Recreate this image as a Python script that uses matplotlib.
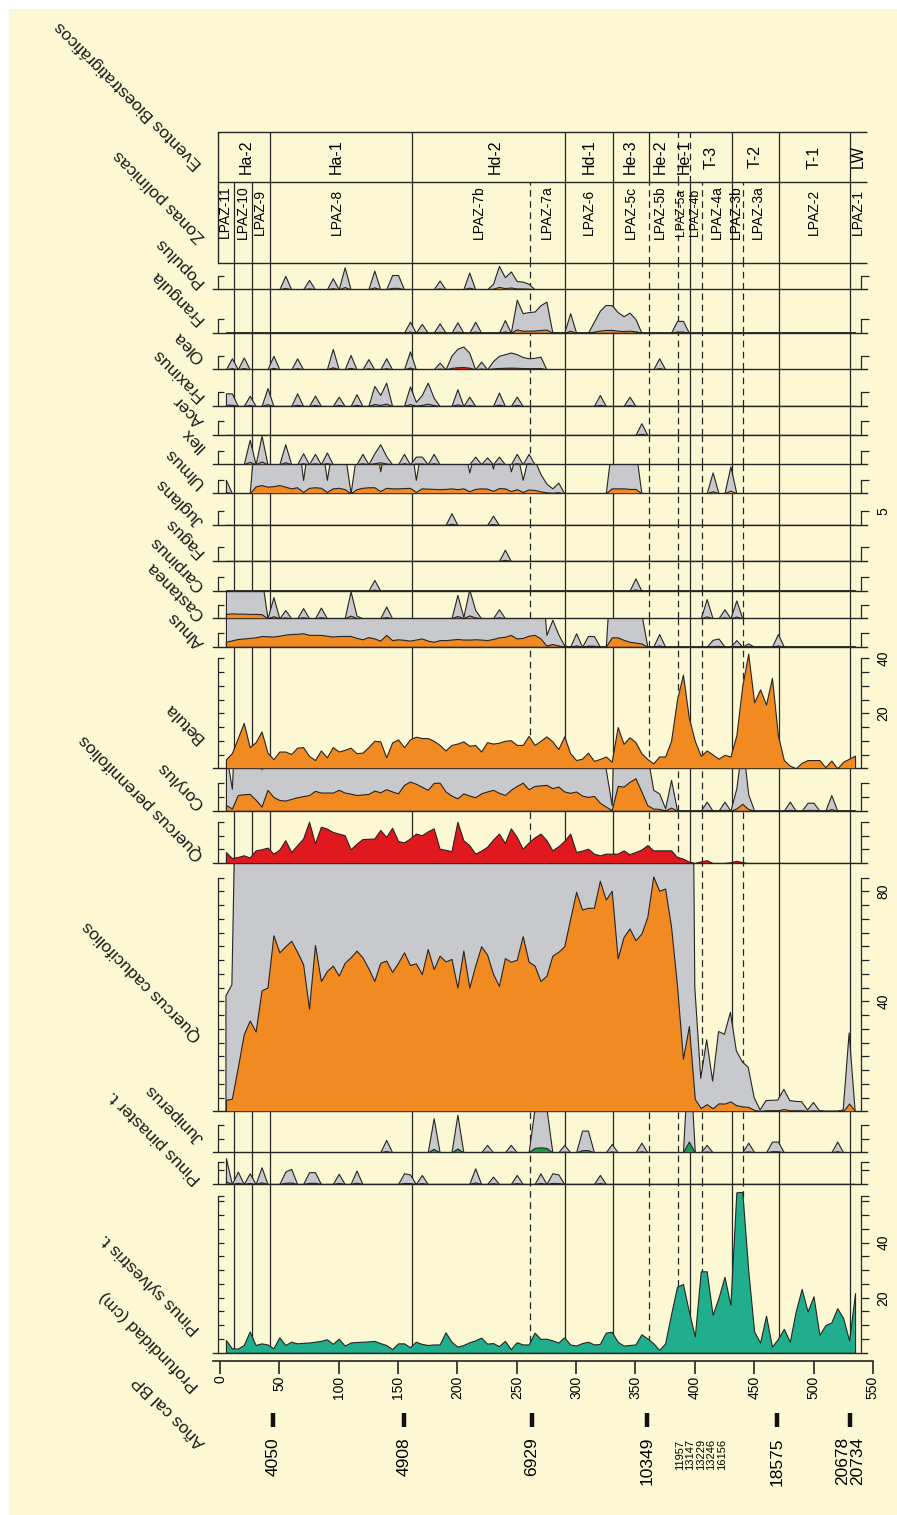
import numpy as np
import matplotlib
matplotlib.use("Agg")
import matplotlib.pyplot as plt
from matplotlib.patches import Rectangle
from matplotlib import font_manager as fm

# ---------------------------------------------------------------- data
DEPTHS = [5, 10, 15, 20, 25, 30, 35, 40, 45, 50,
          55, 60, 65, 70, 75, 80, 85, 90, 95, 100,
          105, 110, 115, 120, 125, 130, 135, 140, 145, 150,
          155, 160, 165, 170, 175, 180, 185, 190, 195, 200,
          205, 210, 215, 220, 225, 230, 235, 240, 245, 250,
          255, 260, 265, 270, 275, 280, 285, 290, 295, 300,
          305, 310, 315, 320, 325, 330, 335, 340, 345, 350,
          355, 360, 365, 370, 375, 380, 385, 390, 395, 400,
          405, 410, 415, 420, 425, 430, 435, 440, 445, 450,
          455, 460, 465, 470, 475, 480, 485, 490, 495, 500,
          505, 510, 515, 520, 525, 530, 535]

PINUS_SYLVESTRIS = [4.6, 1.6, 1.5, 2.8, 7.7, 2.8, 3.4, 3.0, 1.6, 5.6,
                    2.8, 4.0, 3.4, 3.6, 3.7, 4.0, 4.3, 4.9, 3.2, 5.1,
                    2.6, 3.7, 3.9, 4.0, 4.1, 4.3, 3.5, 2.8, 1.3, 3.4,
                    3.4, 2.0, 4.0, 3.2, 2.8, 3.0, 3.0, 7.4, 4.0, 2.2,
                    2.8, 3.8, 4.5, 5.5, 3.3, 3.5, 2.4, 4.3, 1.3, 3.8,
                    3.0, 3.0, 7.3, 5.0, 5.1, 4.5, 3.7, 5.6, 3.0, 2.6,
                    3.5, 4.0, 3.0, 3.2, 7.3, 7.6, 4.0, 2.6, 2.8, 3.0,
                    6.7, 5.2, 3.5, 1.0, 3.4, 14.0, 24.0, 25.0, 15.0, 5.9,
                    29.6, 29.6, 13.8, 20.0, 27.6, 17.4, 58.3, 58.5, 30.0, 7.7,
                    3.7, 13.5, 2.2, 5.0, 8.7, 4.0, 15.0, 23.2, 15.0, 20.5,
                    6.5, 10.0, 11.0, 16.2, 12.6, 4.4, 21.7]

QUERCUS_CADUC = [4.2, 4.6, 16, 28, 33, 29, 44, 45, 64, 57.8,
                 60, 62, 58, 53.5, 37.3, 60.5, 47.4, 51, 53, 49.3,
                 54, 56, 58.4, 56, 52, 47.4, 54, 54.8, 50.7, 54,
                 57.8, 53.2, 53.8, 49.9, 59, 51.7, 56.6, 54.5, 55.4, 45,
                 58.5, 45, 53, 60, 57, 50, 45.6, 55.7, 54.4, 55.1,
                 63.7, 54.4, 53, 47.4, 49.3, 56.6, 58, 60, 70, 79.8,
                 73.4, 74, 74, 83.8, 77, 80.2, 55.6, 63.4, 66.5, 62.2,
                 64.6, 70.7, 85.4, 80.2, 81, 67.1, 45.7, 19.1, 31, 4.5,
                 1.2, 2.6, 1.1, 2.9, 2.8, 3.6, 2.2, 1.8, 1.6, 0.5,
                 0.05, 0.39, 0.4, 0.41, 0.8, 0.39, 0.36, 0.35, 0.05, 0.32,
                 0.02, 0, 0, 0, 0.05, 2.85, 0.05]

QUERCUS_PERENN = [4.0, 1.8, 2.2, 2.8, 2.0, 4.6, 5.0, 5.6, 3.4, 4.9,
                  8.3, 4.0, 6.5, 8.9, 15, 7.1, 13.2, 12.5, 11.3, 10.7,
                  10.1, 5.0, 7.0, 8.7, 8.8, 8.9, 12.0, 9.5, 12.8, 8.0,
                  7.5, 8.9, 10.7, 10.1, 11.5, 12.6, 5.2, 4.8, 4.3, 15.0,
                  8.3, 6.5, 3.4, 4.5, 5.9, 8.5, 10.7, 7.3, 12.6, 9.5,
                  5.2, 7.5, 9.3, 10.7, 8.3, 4.6, 6.1, 8.0, 10.7, 4.0,
                  4.5, 5.2, 3.4, 2.8, 3.4, 3.4, 3.4, 4.6, 3.2, 4.0,
                  4.9, 6.5, 4.6, 4.6, 4.6, 4.6, 2.2, 1.6, 0.5, 0,
                  0.6, 1.0, 0, 0, 0, 0.3, 0.8, 0.3, 0, 0,
                  0, 0, 0, 0, 0, 0, 0, 0, 0, 0,
                  0, 0, 0, 0, 0, 0, 0]

CORYLUS = [2.1, 0.8, 5.7, 6.0, 6.1, 4.0, 1.5, 7.6, 5.0, 3.9,
           3.7, 4.3, 4.9, 5.3, 5.7, 7.2, 6.6, 6.6, 6.6, 7.6,
           6.6, 6.2, 5.7, 5.9, 6.1, 7.3, 6.7, 7.8, 7.0, 6.3,
           9.4, 10.6, 9.8, 8.7, 7.6, 10.1, 10.2, 7.0, 5.5, 4.5,
           6.3, 5.5, 4.9, 6.3, 7.0, 7.6, 6.5, 5.7, 7.6, 9.0,
           10.2, 7.8, 9.0, 9.2, 9.4, 8.2, 8.8, 7.0, 6.5, 7.0,
           5.5, 5.0, 5.4, 2.9, 1.5, 0.2, 9.0, 8.8, 10.5, 11.8,
           7.0, 2.0, 0.76, 0.63, 0.09, 1.12, 0.02, 0, 0, 0,
           0, 0.33, 0, 0, 0.33, 0, 0.82, 2.5, 0.6, 0,
           0, 0, 0, 0, 0, 0.33, 0, 0, 0.29, 0.29,
           0, 0, 0.57, 0, 0, 0, 0]

BETULA = [3.3, 5.5, 11, 16.5, 7.7, 9.5, 13.4, 5.7, 3.3, 6.1,
          6.1, 5.2, 7.5, 7.7, 4.5, 3.0, 6.5, 4.0, 7.7, 6.1,
          6.7, 7.5, 5.5, 5.7, 7.7, 10.0, 9.8, 4.0, 9.4, 10.5,
          7.7, 10.5, 11.5, 11, 11, 10, 8.5, 6.5, 8.5, 9.0,
          9.8, 8.2, 8.5, 6.1, 9.5, 9.0, 9.3, 10, 10.2, 8.5,
          8.5, 11.8, 8.5, 10, 11.6, 9.8, 7.0, 11.6, 5.5, 3.0,
          3.5, 5.7, 2.7, 3.4, 4.3, 2.4, 15, 8.9, 11.3, 9.5,
          5.5, 3.4, 1.8, 4.3, 4.3, 10, 25, 34.1, 18.3, 10,
          4.5, 6.5, 5.0, 3.5, 4.9, 4.3, 12, 30, 41.7, 24,
          28.7, 23.2, 32.9, 12, 3, 1, 0, 2.0, 3.0, 3.0,
          3.0, 0.4, 2.8, 0, 2.4, 3.5, 4.6]

ALNUS = [1.8, 2.3, 2.8, 3.0, 3.2, 3.4, 3.9, 3.8, 3.7, 4.0,
         4.4, 4.6, 4.7, 4.9, 4.3, 4.3, 4.3, 4.0, 3.7, 3.9,
         3.9, 3.9, 3.2, 2.7, 3.5, 3.0, 2.2, 4.3, 2.4, 2.7,
         2.5, 2.2, 2.6, 3.0, 2.2, 1.8, 2.4, 2.4, 2.6, 2.8,
         2.6, 2.6, 2.7, 2.6, 2.4, 2.8, 3.4, 3.6, 4.3, 3.0,
         3.2, 4.0, 4.3, 3.0, 0.43, 0.98, 0.45, 0.05, 0, 0.49,
         0, 0.39, 0.39, 0, 0, 3.4, 3.4, 2.5, 1.8, 1.5,
         1.2, 0, 0, 0.46, 0, 0, 0, 0, 0, 0,
         0, 0, 0.25, 0.3, 0, 0, 0.24, 0, 0.12, 0,
         0, 0, 0, 0.46, 0, 0, 0, 0, 0, 0,
         0, 0, 0, 0, 0, 0, 0]

ULMUS = [0.49, 0, 0, 0, 0, 2.5, 3.0, 2.4, 2.6, 3.0,
         2.4, 1.8, 2.2, 0.49, 2.0, 2.2, 2.0, 0.49, 1.8, 2.0,
         1.5, 0, 1.5, 2.0, 2.2, 2.2, 0.8, 2.0, 1.8, 1.8,
         1.9, 2.0, 0.49, 1.8, 1.7, 1.6, 1.5, 1.6, 1.8, 1.5,
         1.8, 0.76, 1.6, 1.8, 1.7, 0.9, 1.9, 1.8, 0.8, 1.5,
         0.49, 1.4, 1.2, 0.7, 0.35, 0.18, 0.39, 0, 0, 0,
         0, 0, 0, 0, 0, 1.8, 1.8, 1.8, 1.6, 1.6,
         0, 0, 0, 0, 0, 0, 0, 0, 0, 0,
         0, 0, 0.76, 0, 0, 0.98, 0, 0, 0, 0,
         0, 0, 0, 0, 0, 0, 0, 0, 0, 0,
         0, 0, 0, 0, 0, 0, 0]

# sparse taxa: sample depth -> percentage (all other samples are zero)
POPULUS_D = [55, 75, 95, 105, 130, 145, 150, 185, 210, 230, 235, 240, 245, 250, 255, 260]
POPULUS_V = [0.49, 0.34, 0.4, 0.8, 0.68, 0.52, 0.52, 0.32, 0.61, 0.2, 0.85, 0.44, 0.65, 0.3, 0.28, 0.2]
FRANGULA_D = [160, 170, 185, 200, 215, 240, 250, 255, 260, 265, 270, 275, 295, 315, 320, 325,
              330, 335, 340, 345, 350, 385, 390]
FRANGULA_V = [0.4, 0.32, 0.34, 0.38, 0.4, 0.46, 1.2, 0.71, 0.75, 0.77, 1.0, 1.13, 0.71, 0.4, 0.8, 1.01,
              1.0, 0.75, 0.6, 0.73, 0.5, 0.43, 0.43]
OLEA_D = [10, 20, 45, 65, 95, 110, 125, 140, 160, 185, 195, 200, 205, 210, 220, 230, 235, 240,
          245, 250, 255, 260, 265, 270, 370]
OLEA_V = [0.4, 0.43, 0.49, 0.4, 0.74, 0.52, 0.37, 0.4, 0.65, 0.24, 0.5, 0.75, 0.83, 0.6, 0.28, 0.3,
          0.49, 0.55, 0.61, 0.55, 0.45, 0.4, 0.42, 0.46, 0.4]
FRAXINUS_D = [5, 10, 25, 40, 65, 80, 100, 115, 130, 135, 140, 160, 165, 170, 175, 180, 200, 210,
              235, 250, 320, 345]
FRAXINUS_V = [0.46, 0.46, 0.37, 0.65, 0.46, 0.38, 0.34, 0.43, 0.73, 0.4, 0.85, 0.71, 0.15, 0.4, 0.85,
              0.3, 0.61, 0.34, 0.49, 0.34, 0.4, 0.34]
ACER_D = [355]
ACER_V = [0.43]
ILEX_D = [25, 35, 55, 70, 80, 90, 120, 130, 135, 140, 155, 165, 170, 180, 215, 225, 235, 250, 260]
ILEX_V = [0.89, 1.04, 0.73, 0.4, 0.38, 0.43, 0.38, 0.4, 0.73, 0.3, 0.38, 0.28, 0.28, 0.38, 0.28,
          0.25, 0.28, 0.38, 0.38]
JUGLANS_D = [195, 230]
JUGLANS_V = [0.43, 0.34]
FAGUS_D = [240]
FAGUS_V = [0.41]
CARPINUS_D = [130, 350]
CARPINUS_V = [0.39, 0.45]
CASTANEA_D = [5, 10, 15, 20, 25, 30, 35, 45, 55, 70, 85, 110, 115, 140, 200, 205, 210, 215, 235,
              410, 425, 435]
CASTANEA_V = [1.6, 1.8, 1.7, 1.7, 1.6, 1.6, 1.5, 0.77, 0.3, 0.37, 0.39, 0.98, 0.1, 0.43, 0.85,
              0.05, 1.05, 0.3, 0.33, 0.7, 0.33, 0.65]
JUNIPERUS_D = [140, 180, 200, 225, 245, 265, 270, 275, 290, 305, 310, 330, 355, 395, 410, 445,
               465, 470, 520]
JUNIPERUS_V = [0.45, 1.24, 1.37, 0.27, 0.27, 1.6, 1.8, 1.6, 0.27, 0.79, 0.79, 0.3, 0.35, 3.9,
               0.27, 0.35, 0.39, 0.39, 0.39]
PINASTER_D = [5, 15, 25, 35, 55, 60, 75, 80, 100, 115, 155, 160, 170, 215, 230, 250, 270, 280,
              285, 320]
PINASTER_V = [0.94, 0.45, 0.39, 0.61, 0.45, 0.55, 0.43, 0.43, 0.37, 0.49, 0.39, 0.35, 0.33, 0.57,
              0.27, 0.33, 0.39, 0.39, 0.35, 0.33]

EXAGGERATION = 10

# zones
ZONE_BOUNDS = [12, 27.3, 42, 162, 261, 291, 331, 361, 386, 396, 406, 431, 441, 471, 531]
ZONE_DASHED = [0, 0, 0, 0, 1, 0, 0, 1, 1, 0, 1, 0, 1, 0, 0]
ZONE_NAMES = ['LPAZ-11', 'LPAZ-10', 'LPAZ-9', 'LPAZ-8', 'LPAZ-7b', 'LPAZ-7a', 'LPAZ-6', 'LPAZ-5c',
              'LPAZ-5b', 'LPAZ-5a', 'LPAZ-4b', 'LPAZ-4a', 'LPAZ-3b', 'LPAZ-3a', 'LPAZ-2', 'LPAZ-1']
ZONE_LABEL_AT = [4.2, 19.5, 33.7, 98.3, 218, 275, 311, 346, 370.7, 388.4, 400.4, 419, 434.7,
                 453.5, 500, 537.7]
ZONE_LABEL_SIZE = [10, 10, 10, 10, 10, 10, 10, 10, 10, 8.8, 8.8, 10, 10, 10, 10, 10]
EVENT_BOUNDS = [42, 162, 291, 331, 361, 386, 396, 431, 471, 531]
EVENT_DASHED = [0, 0, 0, 0, 0, 1, 1, 0, 0, 0]
EVENT_NAMES = ['Ha-2', 'Ha-1', 'Hd-2', 'Hd-1', 'He-3', 'He-2', 'He-1', 'T-3', 'T-2', 'T-1', 'LW']
EVENT_LABEL_AT = [22.5, 98.3, 231.7, 311, 346, 370.7, 391, 414, 451, 500.4, 537.7]

# radiocarbon ages
AGE_DEPTHS = [44.4, 155, 262.6, 359.5, 469, 530.7]
AGE_LABELS = ['4050', '4908', '6929', '10349', '18575', '20678\n20734']
EXTRA_AGES = ['11957', '13147', '13229', '13246', '16156']
EXTRA_AGES_AT = 405.2

# ---------------------------------------------------------------- style
CREAM = '#fdf8d4'
ORANGE = '#f28a22'
GREY = '#c8c9cc'
RED = '#e2181f'
TEAL = '#20ae8c'
GREEN = '#179e48'
INK = '#262424'
LW = 0.9

names = {f.name for f in fm.fontManager.ttflist}
SANS = 'Liberation Sans' if 'Liberation Sans' in names else 'DejaVu Sans'
NARROW = 'Liberation Sans Narrow' if 'Liberation Sans Narrow' in names else SANS
plt.rcParams['font.family'] = [SANS, 'DejaVu Sans']

W, H = 897, 1515
fig = plt.figure(figsize=(W / 100, H / 100), dpi=100)
fig.patch.set_facecolor('white')
fig.patches.append(Rectangle((9 / W, 0), 1 - 9 / W, 1 - 9 / H, transform=fig.transFigure,
                             facecolor=CREAM, edgecolor='none', zorder=-10))

X0, X1 = 213, 867                  # panel extent (px)
D0 = -5.9
PX_PER_CM = 1.187
D1 = D0 + (X1 - X0) / PX_PER_CM
PX_PER_PCT = 2.75


def px_axes(x0, x1, ytop, ybot):
    return fig.add_axes([x0 / W, 1 - ybot / H, (x1 - x0) / W, (ybot - ytop) / H])


def on_grid(ds, vs):
    out = np.zeros(len(DEPTHS))
    for d, v in zip(ds, vs):
        out[DEPTHS.index(d)] = v
    return out


def dashed(flag):
    return (0, (5.3, 3.6)) if flag else '-'


# name, values, colour, exaggeration, bracket max, right labels, baseline px, top px
PANELS = [
    ('Pinus sylvestris t.', np.array(PINUS_SYLVESTRIS), TEAL, False, 57, [20, 40], 1352.7, 1184),
    ('Pinus pinaster t.', on_grid(PINASTER_D, PINASTER_V), TEAL, True, 8, [], 1184, 1152.3),
    ('Juniperus', on_grid(JUNIPERUS_D, JUNIPERUS_V), GREEN, True, 10, [], 1152.3, 1111.3),
    ('Quercus caducifolios', np.array(QUERCUS_CADUC), ORANGE, True, 85, [40, 80], 1111.3, 863),
    ('Quercus perennifolios', np.array(QUERCUS_PERENN), RED, False, 15, [], 863, 810.7),
    ('Corylus', np.array(CORYLUS), ORANGE, True, 10, [], 810.7, 768.3),
    ('Betula', np.array(BETULA), ORANGE, False, 40, [20, 40], 768.3, 646.7),
    ('Alnus', np.array(ALNUS), ORANGE, True, 5, [], 646.7, 618.3),
    ('Castanea', on_grid(CASTANEA_D, CASTANEA_V), ORANGE, True, 5, [], 618.3, 590.7),
    ('Carpinus', on_grid(CARPINUS_D, CARPINUS_V), ORANGE, True, 5, [], 590.7, 561),
    ('Fagus', on_grid(FAGUS_D, FAGUS_V), ORANGE, True, 5, [], 561, 525),
    ('Juglans', on_grid(JUGLANS_D, JUGLANS_V), ORANGE, True, 5, [5], 525, 493.3),
    ('Ulmus', np.array(ULMUS), ORANGE, True, 5, [], 493.3, 464.3),
    ('Ilex', on_grid(ILEX_D, ILEX_V), ORANGE, True, 5, [], 464.3, 435),
    ('Acer', on_grid(ACER_D, ACER_V), ORANGE, True, 5, [], 435, 406),
    ('Fraxinus', on_grid(FRAXINUS_D, FRAXINUS_V), ORANGE, True, 5, [], 406, 369.3),
    ('Olea', on_grid(OLEA_D, OLEA_V), RED, True, 5, [], 369.3, 332.7),
    ('Frangula', on_grid(FRANGULA_D, FRANGULA_V), ORANGE, True, 5, [], 332.7, 289.3),
    ('Populus', on_grid(POPULUS_D, POPULUS_V), ORANGE, True, 5, [], 289.3, 262.7),
]

depth = np.array(DEPTHS, dtype=float)

for name, vals, col, exag, amax, rlab, yb, yt in PANELS:
    ax = px_axes(X0, X1, yt, yb)
    top = (yb - yt) / PX_PER_PCT
    ax.set_xlim(D0, D1)
    ax.set_ylim(0, top)
    ax.patch.set_visible(False)
    for s in ('top', 'right'):
        ax.spines[s].set_visible(False)
    ax.spines['bottom'].set(color=INK, linewidth=1.0)
    ax.spines['left'].set(color=INK, linewidth=LW)
    ax.spines['left'].set_position(('data', -1.7))
    ax.spines['left'].set_bounds(0, amax)
    ticks = list(range(5, int(amax) + 1, 5))
    if amax not in ticks:
        ticks.append(amax)
    ax.set_xticks([])
    ax.set_yticks(ticks)
    ax.tick_params(axis='y', direction='in', length=4, width=LW, color=INK, labelleft=False)
    for d, f in zip(ZONE_BOUNDS, ZONE_DASHED):
        ax.axvline(d, color=INK, lw=LW, ls=dashed(f), zorder=1)
    if exag:
        ax.fill_between(depth, 0, vals * EXAGGERATION, facecolor=GREY, edgecolor=INK,
                        lw=0.8, zorder=2)
    ax.fill_between(depth, 0, vals, facecolor=col, edgecolor=INK, lw=0.8, zorder=3)

    ax2 = ax.twinx()
    ax2.set_ylim(0, top)
    ax2.patch.set_visible(False)
    for s in ('top', 'left', 'bottom'):
        ax2.spines[s].set_visible(False)
    ax2.spines['right'].set(color=INK, linewidth=LW)
    ax2.spines['right'].set_position(('data', 540))
    ax2.spines['right'].set_bounds(0, amax)
    ax2.set_yticks(ticks)
    ax2.set_yticklabels([str(t) if t in rlab else '' for t in ticks])
    ax2.tick_params(axis='y', direction='out', length=6, width=LW, color=INK,
                    labelsize=10, pad=5, labelrotation=90)
    for t in ax2.get_yticklabels():
        t.set_va('center')

# ---------------------------------------------------------------- header
hx = px_axes(X0, X1, 131.7, 262.7)
hx.set_xlim(D0, D1)
hx.set_ylim(0, 1)
hx.axis('off')
mid = (262.7 - 182.3) / (262.7 - 131.7)
for y in (0, mid, 1):
    hx.plot([-1.7, D1], [y, y], color=INK, lw=1.0, solid_capstyle='butt', clip_on=False)
hx.plot([-1.7, -1.7], [0, 1], color=INK, lw=1.0, clip_on=False)
for d, f in zip(EVENT_BOUNDS, EVENT_DASHED):
    hx.plot([d, d], [mid, 1], color=INK, lw=LW, ls=dashed(f))
for d, f in zip(ZONE_BOUNDS, ZONE_DASHED):
    hx.plot([d, d], [0, mid], color=INK, lw=LW, ls=dashed(f))
ev_y = (262.7 - 157) / (262.7 - 131.7)
zn_y = (262.7 - 212) / (262.7 - 131.7)
for nm, d in zip(EVENT_NAMES, EVENT_LABEL_AT):
    hx.text(d, ev_y, nm, rotation=90, ha='center', va='center', fontsize=11.5, family=NARROW)
for nm, d, fs in zip(ZONE_NAMES, ZONE_LABEL_AT, ZONE_LABEL_SIZE):
    hx.text(d, zn_y, nm, rotation=90, ha='center', va='center', fontsize=fs, family=NARROW)

# ---------------------------------------------------------------- depth axis
XD1 = 873
dx = px_axes(X0, XD1, 1340, 1361)
dx.set_xlim(D0, D0 + (XD1 - X0) / PX_PER_CM)
dx.set_ylim(0, 1)
dx.patch.set_visible(False)
for s in ('top', 'left', 'right'):
    dx.spines[s].set_visible(False)
dx.spines['bottom'].set(color=INK, linewidth=1.2)
dx.spines['bottom'].set_bounds(D0, 550)
dx.set_yticks([])
dx.set_xticks(range(0, 551, 50))
dx.tick_params(axis='x', direction='out', length=9, width=1.2, color=INK, labelsize=10,
               pad=1.5, labelrotation=90)
for t in dx.get_xticklabels():
    t.set_va('top')

# ---------------------------------------------------------------- ages
ag = px_axes(X0, XD1, 1400, 1500)
ag.set_xlim(D0, D0 + (XD1 - X0) / PX_PER_CM)
ag.set_ylim(100, 0)
ag.axis('off')
ag.vlines(AGE_DEPTHS, 13, 27, color='#111111', lw=3.2)
for d, lab in zip(AGE_DEPTHS, AGE_LABELS):
    ag.text(d, 37, lab, rotation=90, ha='center', va='top', fontsize=12.5, family=NARROW,
            linespacing=1.05)
ag.text(EXTRA_AGES_AT, 39, '\n'.join(EXTRA_AGES), rotation=90, ha='center', va='top',
        fontsize=8, family=NARROW, linespacing=1.05)

# ---------------------------------------------------------------- rotated labels
LABELS = [
    ('Eventos Bioestratigráficos', 203, 163),
    ('Zonas polínicas', 206, 236),
    ('Populus', 205, 281),
    ('Frangula', 205, 318),
    ('Olea', 205, 357),
    ('Fraxinus', 205, 395),
    ('Acer', 205, 420),
    ('Ilex', 205, 446),
    ('Ulmus', 205, 482),
    ('Juglans', 205, 520),
    ('Fagus', 205, 551),
    ('Carpinus', 205, 585),
    ('Castanea', 205, 614),
    ('Alnus', 205, 642),
    ('Betula', 205, 737),
    ('Corylus', 205, 803),
    ('Quercus perennifolios', 205, 854),
    ('Quercus caducifolios', 203, 1035),
    ('Juniperus', 205, 1137),
    ('Pinus pinaster t.', 202, 1178),
    ('Pinus sylvestris t.', 201, 1328),
    ('Profundidad (cm)', 200, 1385),
    ('Años cal BP', 206, 1442),
]
for txt, x, y in LABELS:
    fig.text(x / W, 1 - y / H, txt, rotation=135, rotation_mode='anchor', ha='left',
             va='baseline', fontsize=12.5, color='#1a1a1a')

fig.savefig('out.png', dpi=100, facecolor=fig.get_facecolor())
